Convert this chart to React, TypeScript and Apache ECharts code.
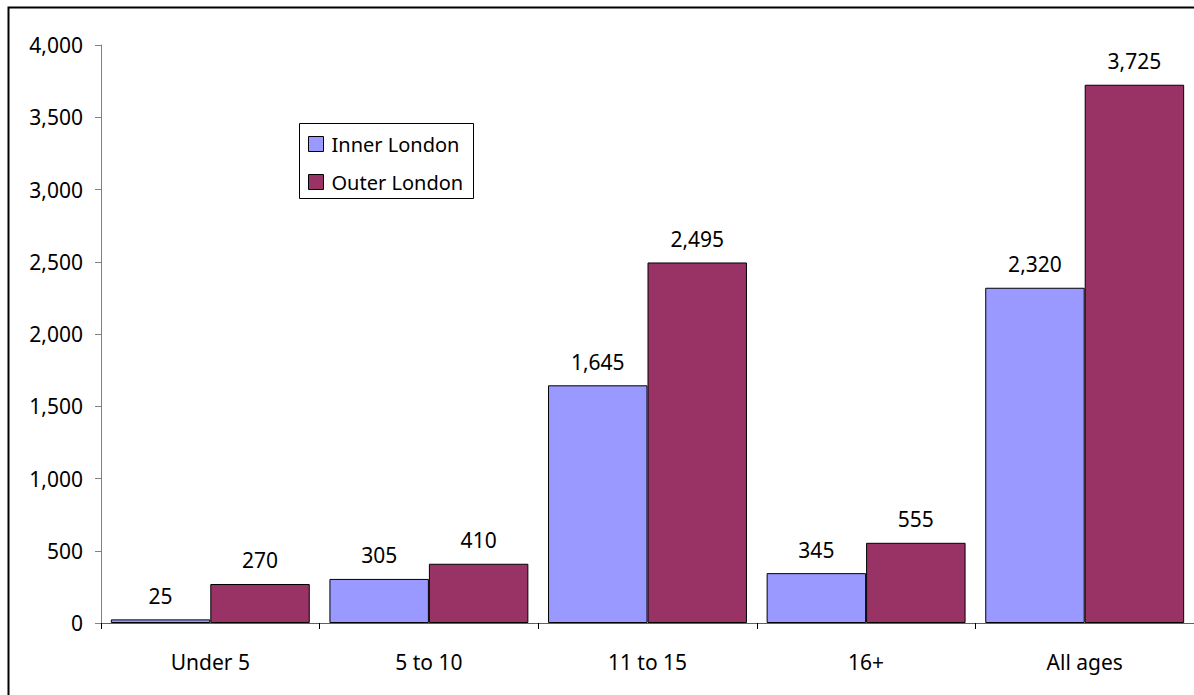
import React, { useEffect, useRef } from "react";
import * as echarts from "echarts";

const categories = ["Under 5", "5 to 10", "11 to 15", "16+", "All ages"];
const innerLondon = [25, 305, 1645, 345, 2320];
const outerLondon = [270, 410, 2495, 555, 3725];
const seriesNames = ["Inner London", "Outer London"];

const FONT = "Noto Sans";
const FS = 21;
const fmt = (v: number) => v.toLocaleString("en-US");

export default function App() {
  const ref = useRef<HTMLDivElement>(null);
  useEffect(() => {
    const chart = echarts.init(ref.current!, null, { renderer: "svg" });
    const labelCfg = {
      show: true,
      position: "top" as const,
      distance: 13,
      color: "#000",
      fontFamily: FONT,
      fontSize: FS,
      formatter: (p: any) => fmt(p.value),
    };
    chart.setOption({
      animation: false,
      backgroundColor: "#fff",
      textStyle: { fontFamily: FONT },
      graphic: [
        {
          type: "rect",
          shape: { x: 8.5, y: 7.5, width: 1300, height: 800 },
          style: { fill: "none", stroke: "#000", lineWidth: 2 },
          silent: true,
        },
        {
          type: "rect",
          shape: { x: 299.5, y: 123.5, width: 174, height: 75 },
          style: { fill: "#fff", stroke: "#000", lineWidth: 1 },
          z: 5,
          silent: true,
        },
      ],
      legend: {
        orient: "vertical",
        left: 303,
        top: 129,
        icon: "rect",
        itemWidth: 15,
        itemHeight: 15,
        itemGap: 18,
        z: 10,
        data: seriesNames,
        textStyle: {
          fontFamily: FONT,
          fontSize: 20,
          lineHeight: 20,
          color: "#000",
          padding: [0, 0, 0, 3],
        },
        itemStyle: { borderColor: "#000", borderWidth: 1 },
      },
      grid: { left: 101, top: 45, width: 1098, height: 578, containLabel: false },
      xAxis: {
        type: "category",
        data: categories,
        axisLine: { lineStyle: { color: "#606060", width: 1 } },
        axisTick: { show: true, length: 6, lineStyle: { color: "#000" } },
        axisLabel: { fontFamily: FONT, fontSize: FS, color: "#000", margin: 28 },
      },
      yAxis: {
        type: "value",
        min: 0,
        max: 4000,
        interval: 500,
        axisLine: { show: true, lineStyle: { color: "#808080", width: 1 } },
        axisTick: { show: true, length: 6, lineStyle: { color: "#808080" } },
        splitLine: { show: false },
        axisLabel: {
          fontFamily: FONT,
          fontSize: FS,
          color: "#000",
          margin: 18,
          formatter: (v: number) => fmt(v),
        },
      },
      series: [
        {
          name: seriesNames[0],
          type: "bar",
          data: innerLondon,
          barGap: "0%",
          barCategoryGap: "9%",
          itemStyle: { color: "#9999FF", borderColor: "#000", borderWidth: 1 },
          label: labelCfg,
        },
        {
          name: seriesNames[1],
          type: "bar",
          data: outerLondon,
          barGap: "0%",
          barCategoryGap: "9%",
          itemStyle: { color: "#993366", borderColor: "#000", borderWidth: 1 },
          label: labelCfg,
        },
      ],
    });
    return () => chart.dispose();
  }, []);
  return (
    <div
      ref={ref}
      style={{ position: "absolute", left: 0, top: 0, width: 1194, height: 695 }}
    />
  );
}
